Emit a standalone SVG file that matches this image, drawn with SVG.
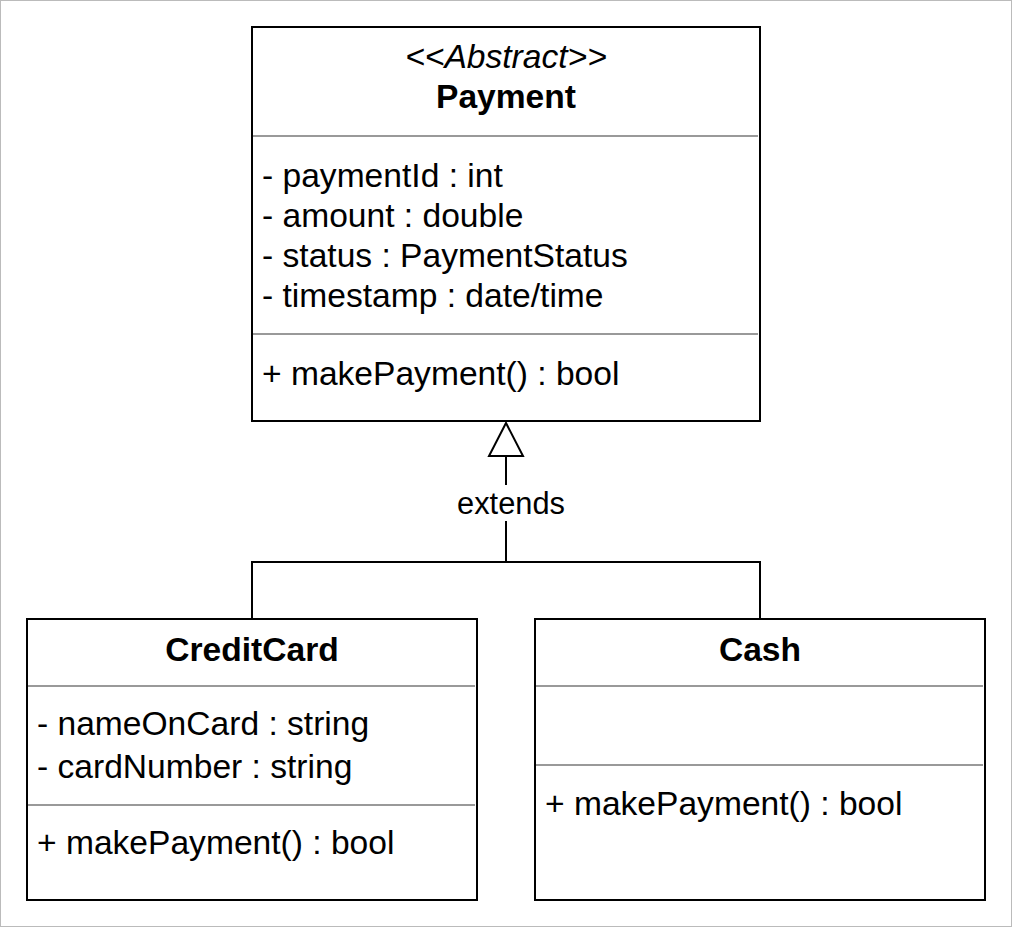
<svg xmlns="http://www.w3.org/2000/svg" width="1012" height="928" viewBox="0 0 1012 928">
<style>
.box{fill:#fff;stroke:#000;stroke-width:2}
.sep{stroke:#999;stroke-width:2}
.t{font-family:"Liberation Sans",Arial,sans-serif;font-size:33.6px;fill:#000}
.b{font-weight:bold;text-anchor:middle}
.i{font-style:italic;text-anchor:middle}
.conn{fill:none;stroke:#000;stroke-width:2}
.lbl{font-family:"Liberation Sans",Arial,sans-serif;font-size:30.8px;fill:#000;text-anchor:middle}
</style>
<rect x="0.5" y="0.5" width="1011" height="926" fill="#fff" stroke="#bbb" stroke-width="1"/>
<g id="connectors">
<path class="conn" d="M506,456 V562 M252,619 V562 H760 V619"/>
<polygon points="506,423 489,456 523,456" fill="#fff" stroke="#000" stroke-width="2"/>
<rect x="455" y="485" width="102" height="36" fill="#fff"/>
<text class="lbl" x="511" y="514">extends</text>
</g>
<g id="payment">
<rect class="box" x="252" y="27" width="508" height="394"/>
<line class="sep" x1="253" y1="136" x2="758" y2="136"/>
<line class="sep" x1="253" y1="334" x2="758" y2="334"/>
<text class="t i" x="506" y="68">&lt;&lt;Abstract&gt;&gt;</text>
<text class="t b" x="506" y="108">Payment</text>
<text class="t" x="262" y="187">- paymentId : int</text>
<text class="t" x="262" y="227">- amount : double</text>
<text class="t" x="262" y="267">- status : PaymentStatus</text>
<text class="t" x="262" y="307">- timestamp : date/time</text>
<text class="t" x="262" y="385">+ makePayment() : bool</text>
</g>
<g id="creditcard">
<rect class="box" x="27" y="619" width="450" height="281"/>
<line class="sep" x1="28" y1="686" x2="475" y2="686"/>
<line class="sep" x1="28" y1="805" x2="475" y2="805"/>
<text class="t b" x="252" y="661">CreditCard</text>
<text class="t" x="37" y="735">- nameOnCard : string</text>
<text class="t" x="37" y="778">- cardNumber : string</text>
<text class="t" x="37" y="854">+ makePayment() : bool</text>
</g>
<g id="cash">
<rect class="box" x="535" y="619" width="450" height="281"/>
<line class="sep" x1="536" y1="686" x2="983" y2="686"/>
<line class="sep" x1="536" y1="765" x2="983" y2="765"/>
<text class="t b" x="760" y="661">Cash</text>
<text class="t" x="545" y="815">+ makePayment() : bool</text>
</g>
</svg>
